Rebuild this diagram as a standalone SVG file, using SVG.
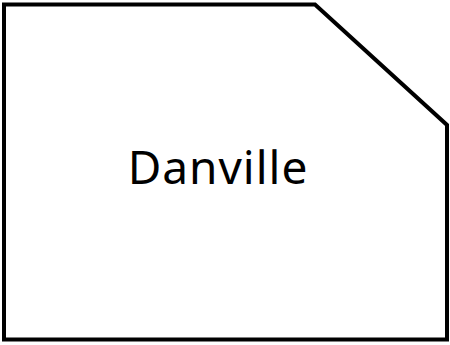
<svg xmlns="http://www.w3.org/2000/svg" width="450" height="345" viewBox="0 0 450 345">
<style>
.shape{fill:#ffffff;stroke:#000000;stroke-width:4;stroke-linejoin:miter}
.label{font-family:"Noto Sans","Open Sans",sans-serif;font-size:46px;letter-spacing:1px;fill:#000000;text-anchor:middle}
</style>
<rect width="450" height="345" fill="#ffffff"/>
<g id="danville">
<polygon class="shape" points="4,4.5 315,4.5 447,125 447,339.5 4,339.5"/>
<text class="label" x="218" y="184">Danville</text>
</g>
<g id="connectors"></g>
</svg>
